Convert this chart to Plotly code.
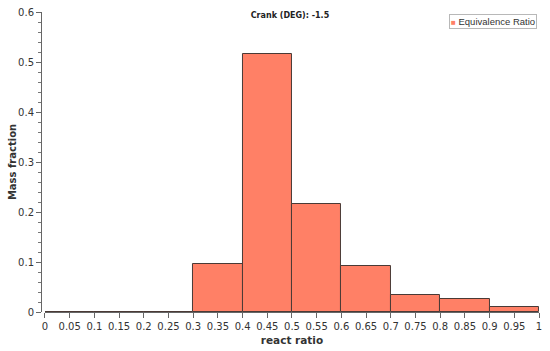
import plotly.graph_objects as go

bin_left = [0.0, 0.1, 0.2, 0.3, 0.4, 0.5, 0.6, 0.7, 0.8, 0.9]
mass_fraction = [0.0, 0.0, 0.0, 0.097, 0.516, 0.216, 0.092, 0.034, 0.026, 0.0095]
bin_width = 0.1
x_ticks = [round(i * 0.05, 2) for i in range(21)]
x_labels = ["0" if v == 0 else ("1" if v == 1 else f"{v:g}") for v in x_ticks]
y_ticks = [0, 0.1, 0.2, 0.3, 0.4, 0.5, 0.6]
y_labels = ["0", "0.1", "0.2", "0.3", "0.4", "0.5", "0.6"]
series_name = "Equivalence Ratio"
bar_color = "#FF8066"

font = "DejaVu Sans"

fig = go.Figure()
fig.add_trace(go.Bar(
    x=[b + bin_width / 2 for b in bin_left],
    y=mass_fraction,
    width=bin_width,
    name=series_name,
    showlegend=False,
    marker=dict(color=bar_color, line=dict(color="#4a3a36", width=1)),
))

fig.update_layout(
    width=550, height=351,
    margin=dict(l=41, r=11, t=12, b=39, autoexpand=False),
    paper_bgcolor="white", plot_bgcolor="white",
    bargap=0,
    showlegend=False,
    title=dict(text="<b>Crank (DEG): -1.5</b>", xref="paper", x=0.5, xanchor="center",
               yref="container", y=0.957, yanchor="middle",
               font=dict(family=font, size=8, color="#222")),
    font=dict(family=font, color="#333"),
)

# legend box
fig.add_annotation(
    xref="paper", yref="paper", x=0.996, y=0.993, xanchor="right", yanchor="top",
    text=f"<span style='color:{bar_color};font-size:8px'>■</span> {series_name}",
    showarrow=False, bgcolor="white", bordercolor="#b8b8b8", borderwidth=1, borderpad=1,
    font=dict(family="Liberation Sans", size=9.5, color="#333"),
)

# y axis title
fig.add_annotation(
    xref="paper", yref="paper", x=-0.058, y=0.5, xanchor="center", yanchor="middle",
    text="<b>Mass fraction</b>", textangle=-90, showarrow=False,
    font=dict(family=font, size=10, color="#333"),
)

fig.update_xaxes(
    range=[0, 1], domain=[0.008, 1], automargin=False,
    tickmode="array", tickvals=x_ticks, ticktext=x_labels,
    ticks="outside", ticklen=5, tickcolor="#666", tickwidth=1,
    showline=True, linecolor="#666", linewidth=1,
    showgrid=False, zeroline=False,
    ticklabeloverflow="allow",
    tickfont=dict(family=font, size=10, color="#333"),
    title=dict(text="<b>react ratio</b>", font=dict(family=font, size=10.5, color="#333"), standoff=5),
)
fig.update_yaxes(
    range=[0, 0.6], anchor="free", position=0, automargin=False,
    tickmode="array", tickvals=y_ticks, ticktext=y_labels,
    ticks="outside", ticklen=5, tickcolor="#666", tickwidth=1,
    minor=dict(dtick=0.02, ticks="outside", ticklen=3, tickcolor="#777", showgrid=False),
    showline=True, linecolor="#666", linewidth=1,
    showgrid=False, zeroline=False,
    tickfont=dict(family=font, size=10, color="#333"),
)

fig.write_html("out.html", config={"displayModeBar": False},
               post_script="document.body.style.margin='0';document.body.style.padding='0';")
